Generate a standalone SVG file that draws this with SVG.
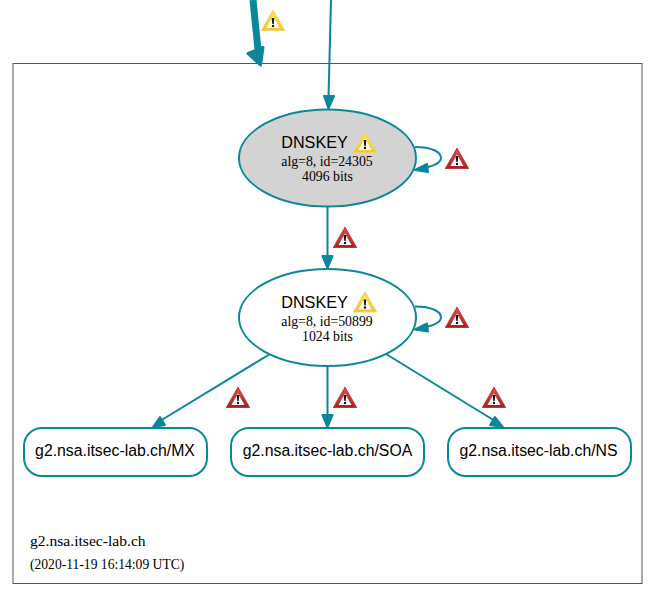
<svg xmlns="http://www.w3.org/2000/svg" xmlns:xlink="http://www.w3.org/1999/xlink" width="658" height="600" viewBox="0 0 658 600">
<style>
.e{stroke:#0a879a;stroke-width:2;fill:none}
.n{stroke:#0a879a;stroke-width:2;fill:#fff}
.h{fill:#0a879a;stroke:#0a879a;stroke-width:2;stroke-linejoin:round}
.s{font-family:"Liberation Sans",Arial,sans-serif;font-size:15.8px;fill:#000;text-anchor:middle}
.k{font-family:"Liberation Sans",Arial,sans-serif;font-size:16.200px;fill:#000;text-anchor:middle}
.t{font-family:"Liberation Serif","Times New Roman",serif;font-size:13.8px;fill:#000;text-anchor:middle}
</style>
<defs>
<linearGradient id="gy" x1="0" y1="0" x2="0" y2="1"><stop offset="0" stop-color="#ffe850"/><stop offset="1" stop-color="#f5c52a"/></linearGradient>
<linearGradient id="gr" x1="0" y1="0" x2="0" y2="1"><stop offset="0" stop-color="#e8504e"/><stop offset="1" stop-color="#a81c1c"/></linearGradient>
<g id="warn">
<path d="M0,-10.500 L11.500,9.500 L-11.500,9.500 Z" fill="url(#gy)" stroke="#ecd06a" stroke-width="1.200" stroke-linejoin="round"/>
<path d="M0,-4.500 L6.500,7 L-6.500,7 Z" fill="#fff"/>
<path d="M-1.300,-3 L1.300,-3 L0.700,3 L-0.700,3 Z" fill="#111"/>
<circle cx="0" cy="5" r="1.200" fill="#111"/>
</g>
<g id="err">
<path d="M0,-10.500 L11.500,9.500 L-11.500,9.500 Z" fill="url(#gr)" stroke="#b53a3a" stroke-width="1.200" stroke-linejoin="round"/>
<path d="M0,-4.500 L6.500,7 L-6.500,7 Z" fill="#fff"/>
<path d="M-1.300,-3 L1.300,-3 L0.700,3 L-0.700,3 Z" fill="#111"/>
<circle cx="0" cy="5" r="1.200" fill="#111"/>
</g>
</defs>
<rect width="658" height="600" fill="#fff"/>
<g id="zone">
<rect x="13" y="63.500" width="629" height="520" fill="none" stroke="#555" stroke-width="1"/>
<text x="30" y="546" font-family="Liberation Serif, serif" font-size="15.600">g2.nsa.itsec-lab.ch</text>
<text x="30" y="569" font-family="Liberation Serif, serif" font-size="13.600">(2020-11-19 16:14:09 UTC)</text>
</g>
<g id="connectors">
<path d="M253,0 L258,50" fill="none" stroke="#0a879a" stroke-width="7"/>
<path class="h" style="stroke-width:3" d="M248,53.500 L263,47.500 L260.500,65 Z"/>
<use xlink:href="#warn" x="273" y="21"/>
<path class="e" d="M331,0 L328.500,97"/>
<path class="h" d="M324,96 L334,96 L328.500,108.500 Z"/>
<path class="e" d="M415,147 C432,147 441,152 441,158 C441,162 436,165 428,167"/>
<path class="h" d="M415,170 L427,164 L428,172 Z"/>
<use xlink:href="#err" x="457" y="159"/>
<path class="e" d="M327.500,207 L327.500,257"/>
<path class="h" d="M322.500,256 L332.500,256 L327.500,268 Z"/>
<use xlink:href="#err" x="345" y="238"/>
<path class="e" d="M415,306.500 C432,306.500 441,311.500 441,317.500 C441,321.500 436,324.500 428,326.500"/>
<path class="h" d="M415,329.500 L427,323.500 L428,331.500 Z"/>
<use xlink:href="#err" x="457" y="318"/>
<path class="e" d="M270,354 L160,421"/>
<path class="h" d="M153,427 L160,417 L165,425 Z"/>
<use xlink:href="#err" x="238" y="398"/>
<path class="e" d="M327.500,366 L327.500,416"/>
<path class="h" d="M322.500,415 L332.500,415 L327.500,427 Z"/>
<use xlink:href="#err" x="345" y="398"/>
<path class="e" d="M386,354 L495,421"/>
<path class="h" d="M503,427 L490,425 L495,417 Z"/>
<use xlink:href="#err" x="494" y="398"/>
</g>
<g id="dnskey-24305">
<ellipse class="n" cx="327.500" cy="158" rx="88.500" ry="48.500" style="fill:#d3d3d3"/>
<text class="k" x="314.500" y="148">DNSKEY</text>
<use xlink:href="#warn" x="365" y="143"/>
<text class="t" x="327" y="166">alg=8, id=24305</text>
<text class="t" x="327.500" y="181">4096 bits</text>
</g>
<g id="dnskey-50899">
<ellipse class="n" cx="327.500" cy="317.500" rx="88.500" ry="48.500"/>
<text class="k" x="314.500" y="307.500">DNSKEY</text>
<use xlink:href="#warn" x="365" y="302.500"/>
<text class="t" x="327" y="325.500">alg=8, id=50899</text>
<text class="t" x="327.500" y="340.500">1024 bits</text>
</g>
<g id="rrset-mx">
<rect class="n" x="24" y="428" width="183" height="48" rx="18" ry="18"/>
<text class="s" x="115" y="456">g2.nsa.itsec-lab.ch/MX</text>
</g>
<g id="rrset-soa">
<rect class="n" x="231" y="428" width="193" height="48" rx="18" ry="18"/>
<text class="s" x="327.500" y="456">g2.nsa.itsec-lab.ch/SOA</text>
</g>
<g id="rrset-ns">
<rect class="n" x="448" y="428" width="183" height="48" rx="18" ry="18"/>
<text class="s" x="538.500" y="456">g2.nsa.itsec-lab.ch/NS</text>
</g>
</svg>
